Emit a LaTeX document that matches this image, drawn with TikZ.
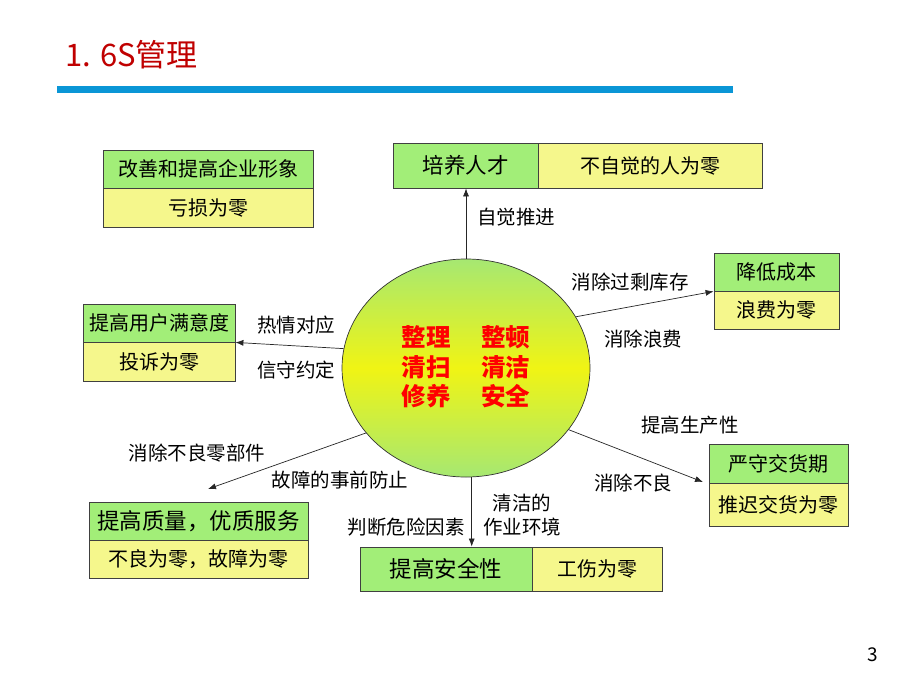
\documentclass[tikz,border=0pt]{standalone}
\usepackage{fontspec}
\setmainfont{Noto Sans CJK SC}
\usetikzlibrary{shapes.geometric,arrows.meta}
\definecolor{hdrgreen}{HTML}{A2EE78}
\definecolor{bodyyellow}{HTML}{F5F78C}
\definecolor{titlered}{HTML}{C00000}
\definecolor{barblue}{HTML}{0A96D6}
\definecolor{ellgreen}{HTML}{A6E872}
\definecolor{ellyellow}{HTML}{F0F414}
\tikzset{
  boxbase/.style={draw=black!75, line width=0.8pt, inner sep=0pt, align=center, font=\fontsize{20}{24}\selectfont},
  gbox/.style={boxbase, fill=hdrgreen},
  ybox/.style={boxbase, fill=bodyyellow},
  lbl/.style={font=\fontsize{19.5}{23}\selectfont, inner sep=0pt},
  arr/.style={draw=black!85, line width=0.7pt, -{Latex[length=8pt,width=6pt]}},
}
\begin{document}
\begin{tikzpicture}[x=1pt,y=-1pt]
\useasboundingbox (0,0) rectangle (920,690);
\fill[white] (0,0) rectangle (920,690);
% title
\node[anchor=west, text=titlered, font=\fontsize{31}{34}\selectfont, inner sep=0pt] (title) at (65,55) {1. 6S管理};
\fill[barblue] (57,86) rectangle (733,93);
\node[font=\fontsize{19}{22}\selectfont, inner sep=0pt] (pnum) at (873,655) {3};
% central ellipse
\node[ellipse, draw=black!80, line width=0.7pt, minimum width=248pt, minimum height=218pt,
      top color=ellgreen, bottom color=ellgreen, middle color=ellyellow, inner sep=0pt] (core) at (466,368) {};
\node[text=red, font=\fontsize{24.5}{29.5}\selectfont\bfseries, align=center, inner sep=0pt] (coretxt) at (466,367)
  {整理\hspace{31pt}整顿\\清扫\hspace{31pt}清洁\\修养\hspace{31pt}安全};
% top box
\node[gbox, minimum width=145pt, minimum height=45pt, font=\fontsize{21.5}{24}\selectfont] (tg) at (465.5,165.5) {培养人才};
\node[ybox, minimum width=224pt, minimum height=45pt] (ty) at (650,165.5) {不自觉的人为零};
% top-left box
\node[gbox, minimum width=210pt, minimum height=38pt] (tlg) at (208,169) {改善和提高企业形象};
\node[ybox, minimum width=210pt, minimum height=39pt] (tly) at (208,207.5) {亏损为零};
% left box
\node[gbox, minimum width=152pt, minimum height=38pt] (lg) at (159,323) {提高用户满意度};
\node[ybox, minimum width=152pt, minimum height=39pt] (ly) at (159,361.5) {投诉为零};
% bottom-left box
\node[gbox, minimum width=219pt, minimum height=38pt, font=\fontsize{22.5}{24}\selectfont] (blg) at (198.5,521) {提高质量，优质服务};
\node[ybox, minimum width=219pt, minimum height=38pt] (bly) at (198.5,559) {不良为零，故障为零};
% bottom box
\node[gbox, minimum width=172pt, minimum height=44pt, font=\fontsize{22.5}{24}\selectfont] (bg) at (446,569) {提高安全性};
\node[ybox, minimum width=130pt, minimum height=44pt] (by) at (597,569) {工伤为零};
% right-top box
\node[gbox, minimum width=125pt, minimum height=38pt] (rtg) at (776.5,272) {降低成本};
\node[ybox, minimum width=125pt, minimum height=38pt] (rty) at (776.5,310) {浪费为零};
% right-bottom box
\node[gbox, minimum width=139pt, minimum height=39pt] (rbg) at (778.5,463.5) {严守交货期};
\node[ybox, minimum width=139pt, minimum height=43pt] (rby) at (778.5,504.5) {推迟交货为零};
% connectors
\coordinate (blend) at (208,489);
\coordinate (rbend) at (703,482);
\draw[arr] (core.north) -- (core.north |- tg.south);
\draw[arr] (core.171) -- (lg.south east);
\draw[arr] (core.25) -- (rtg.south west);
\draw[arr] (core.-31) -- (rbend);
\draw[arr] (core.213) -- (blend);
\draw[arr] (core.-87) -- (core.-87 |- bg.north);
% labels
\node[lbl] (l1) at (516,217) {自觉推进};
\node[lbl] (l2) at (630,282) {消除过剩库存};
\node[lbl] (l3) at (643,339) {消除浪费};
\node[lbl] (l4) at (296,325) {热情对应};
\node[lbl] (l5) at (296,370) {信守约定};
\node[lbl] (l6) at (690,425) {提高生产性};
\node[lbl] (l7) at (633,483) {消除不良};
\node[lbl] (l8) at (197,453) {消除不良零部件};
\node[lbl] (l9) at (340,480) {故障的事前防止};
\node[lbl] (l10) at (522,503) {清洁的};
\node[lbl] (l11) at (522,527) {作业环境};
\node[lbl] (l12) at (406,527) {判断危险因素};
\end{tikzpicture}
\end{document}
